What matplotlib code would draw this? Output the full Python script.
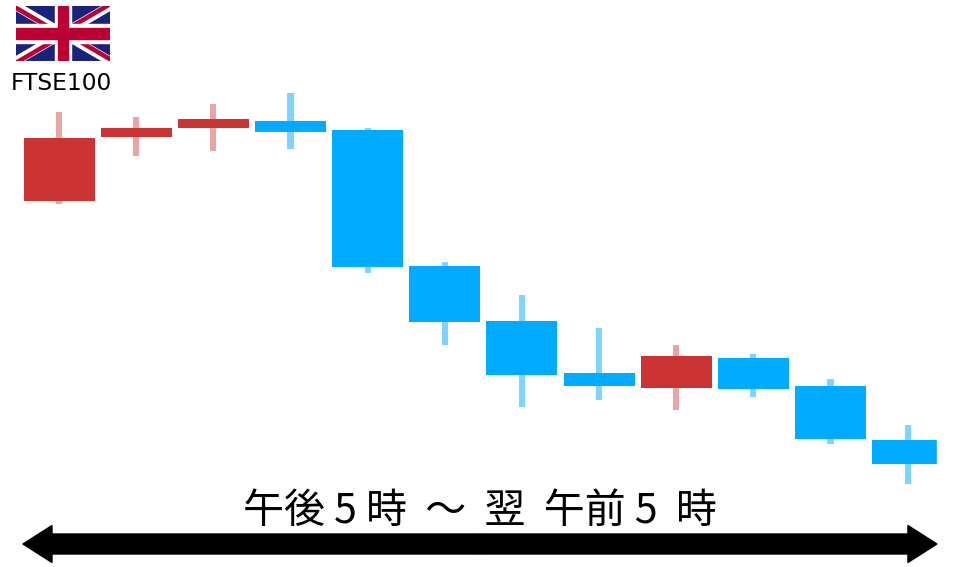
import matplotlib
matplotlib.use("Agg")
import matplotlib.pyplot as plt
from matplotlib.patches import Polygon, Rectangle, FancyArrow

# candle values (axis runs in picture units, top is small)
tops = [138, 128, 119, 121, 130, 266, 321, 373, 356, 358, 386, 440]
bottoms = [201, 137, 128, 132, 267, 322, 375, 386, 388, 389, 439, 464]
highs = [112, 117, 104, 93, 128, 262, 295, 328, 345, 354, 379, 425]
lows = [204, 156, 151, 149, 273, 345, 407, 400, 410, 397, 444, 484]
colours = ["#cc3333", "#cc3333", "#cc3333", "#00aaff", "#00aaff", "#00aaff",
           "#00aaff", "#00aaff", "#cc3333", "#00aaff", "#00aaff", "#00aaff"]
wick_colours = {"#cc3333": "#e8a5a5", "#00aaff": "#7fd4ff"}

index_label = "FTSE100"
time_label = "午後 5 時  ～  翌  午前 5  時"

plt.rcParams['font.family'] = ['Noto Sans CJK JP', 'DejaVu Sans']

fig = plt.figure(figsize=(9.6, 5.67), dpi=100)
ax = fig.add_axes([0, 0, 1, 1])
ax.set_xlim(-0.765, 11.679)
ax.set_ylim(567, 0)
ax.axis("off")

for i in range(len(tops)):
    c = colours[i]
    ax.bar(i, lows[i] - highs[i], bottom=highs[i], width=0.08,
           color=wick_colours[c], zorder=2)
    ax.bar(i, bottoms[i] - tops[i], bottom=tops[i], width=0.92,
           color=c, zorder=3)

# last candle is cut off on the right
ax.add_patch(Rectangle((11.38, 420), 0.4, 70, color="white", zorder=4))

ax.text(0.026, 84, index_label, ha="center", va="center", fontsize=16.8,
        family=["DejaVu Sans"], color="black")
ax.text(5.457, 511, time_label, ha="center", va="center", fontsize=29.5, color="black")

# double arrow
ax.add_patch(FancyArrow(5.457, 544, 5.923, 0, width=20, head_width=37, head_length=0.376,
                        length_includes_head=True, color="black", zorder=5))
ax.add_patch(FancyArrow(5.457, 544, -5.924, 0, width=20, head_width=37, head_length=0.376,
                        length_includes_head=True, color="black", zorder=5))

# union flag
fl = fig.add_axes([16/960, 1 - 61/567, 94/960, 55/567])
fl.set_xlim(0, 60)
fl.set_ylim(0, 30)
fl.axis("off")
fl.add_patch(Rectangle((0, 0), 60, 30, color="#1a237b", zorder=1))
fl.plot([0, 60], [0, 30], color="white", lw=6.5, solid_capstyle="butt", zorder=2)
fl.plot([0, 60], [30, 0], color="white", lw=6.5, solid_capstyle="butt", zorder=2)
fl.add_patch(Polygon([(0, 30), (0, 28), (26, 15), (30, 15)], color="#bd0034", zorder=3))
fl.add_patch(Polygon([(60, 0), (60, 2), (34, 15), (30, 15)], color="#bd0034", zorder=3))
fl.add_patch(Polygon([(60, 30), (56, 30), (30, 17), (30, 15)], color="#bd0034", zorder=3))
fl.add_patch(Polygon([(0, 0), (4, 0), (30, 13), (30, 15)], color="#bd0034", zorder=3))
fl.add_patch(Rectangle((25, 0), 10, 30, color="white", zorder=4))
fl.add_patch(Rectangle((0, 10), 60, 10, color="white", zorder=4))
fl.add_patch(Rectangle((27, 0), 6, 30, color="#bd0034", zorder=5))
fl.add_patch(Rectangle((0, 12), 60, 6, color="#bd0034", zorder=5))

fig.savefig("out.png", dpi=100)
plt.close()
